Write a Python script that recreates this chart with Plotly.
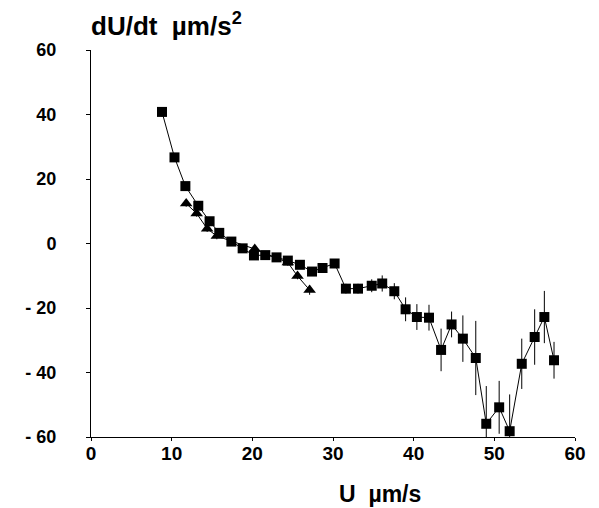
import plotly.graph_objects as go

sq_x = [8.8, 10.35, 11.7, 13.3, 14.7, 15.9, 17.4, 18.8, 20.2, 21.6, 23.0, 24.4, 25.9, 27.4, 28.7, 30.2,
        31.6, 33.1, 34.8, 36.1, 37.6, 39.0, 40.4, 41.9, 43.4, 44.7, 46.1, 47.7, 49.0, 50.6, 51.9, 53.4,
        55.0, 56.2, 57.4]
sq_y = [40.8, 26.7, 17.8, 11.7, 6.9, 3.3, 0.6, -1.5, -3.7, -3.6, -4.3, -5.3, -6.6, -8.7, -7.6, -6.2,
        -14.0, -14.0, -13.1, -12.4, -14.8, -20.4, -22.8, -23.0, -33.0, -25.1, -29.5, -35.5, -55.9, -50.8,
        -58.2, -37.3, -29.0, -22.8, -36.2]
sq_err = [1.5, 1.0, 1.0, 1.0, 1.0, 1.0, 0.8, 0.8, 0.8, 0.8, 0.8, 1.0, 1.0, 1.0, 1.0, 1.0,
          1.5, 1.5, 2.0, 2.5, 2.5, 3.7, 4.0, 4.0, 6.6, 4.0, 7.2, 11.5, 11.7, 8.2, 11.4, 7.8,
          8.6, 8.1, 5.7]

tri_x = [11.8, 13.1, 14.4, 15.6, 20.3, 24.4, 25.6, 27.1]
tri_y = [12.4, 9.3, 4.6, 2.3, -1.7, -5.9, -10.1, -14.4]
tri_err = [1.0, 1.0, 1.0, 1.0, 1.0, 1.0, 1.0, 1.5]

x_ticks = [0, 10, 20, 30, 40, 50, 60]
y_ticks = [60, 40, 20, 0, -20, -40, -60]
y_tick_text = ["60", "40", "20", "0", "- 20", "- 40", "- 60"]

fig = go.Figure()
fig.add_trace(go.Scatter(
    x=sq_x, y=sq_y, mode="lines+markers",
    line=dict(color="black", width=1),
    marker=dict(symbol="square", size=10, color="black"),
    error_y=dict(type="data", array=sq_err, color="black", thickness=1, width=0),
    showlegend=False))
fig.add_trace(go.Scatter(
    x=tri_x, y=tri_y, mode="lines+markers",
    line=dict(color="black", width=1),
    marker=dict(symbol="triangle-up", size=11, color="black"),
    error_y=dict(type="data", array=tri_err, color="black", thickness=1, width=0),
    showlegend=False))

font = "Liberation Sans, Arial, sans-serif"
fig.update_layout(
    width=599, height=508,
    margin=dict(l=91, r=24, t=50, b=71),
    paper_bgcolor="white", plot_bgcolor="white",
    font=dict(family=font, color="black"),
    xaxis=dict(range=[0, 60], tickvals=x_ticks, showgrid=False, zeroline=False,
               showline=True, linecolor="black", linewidth=1,
               ticks="outside", ticklen=3, tickcolor="black", ticklabelstandoff=-4,
               tickfont=dict(size=19, family=font, weight="bold")),
    yaxis=dict(range=[-60, 60], tickvals=y_ticks, ticktext=y_tick_text, showgrid=False,
               zeroline=False, showline=True, linecolor="black", linewidth=1,
               ticks="outside", ticklen=4, tickcolor="black", ticklabelstandoff=26,
               tickfont=dict(size=18, family=font, weight="bold")),
    annotations=[
        dict(text="<b>dU/dt  µm/s<sup>2</sup></b>", xref="paper", yref="paper",
             x=0.0, y=1.0, xanchor="left", yanchor="bottom", yshift=7, xshift=-2,
             showarrow=False, font=dict(size=26, family=font)),
        dict(text="<b>U  µm/s</b>", xref="paper", yref="paper",
             x=0.597, y=0, xanchor="center", yanchor="middle", yshift=-57, showarrow=False,
             font=dict(size=23, family=font)),
    ],
)

fig.write_html("out.html")
